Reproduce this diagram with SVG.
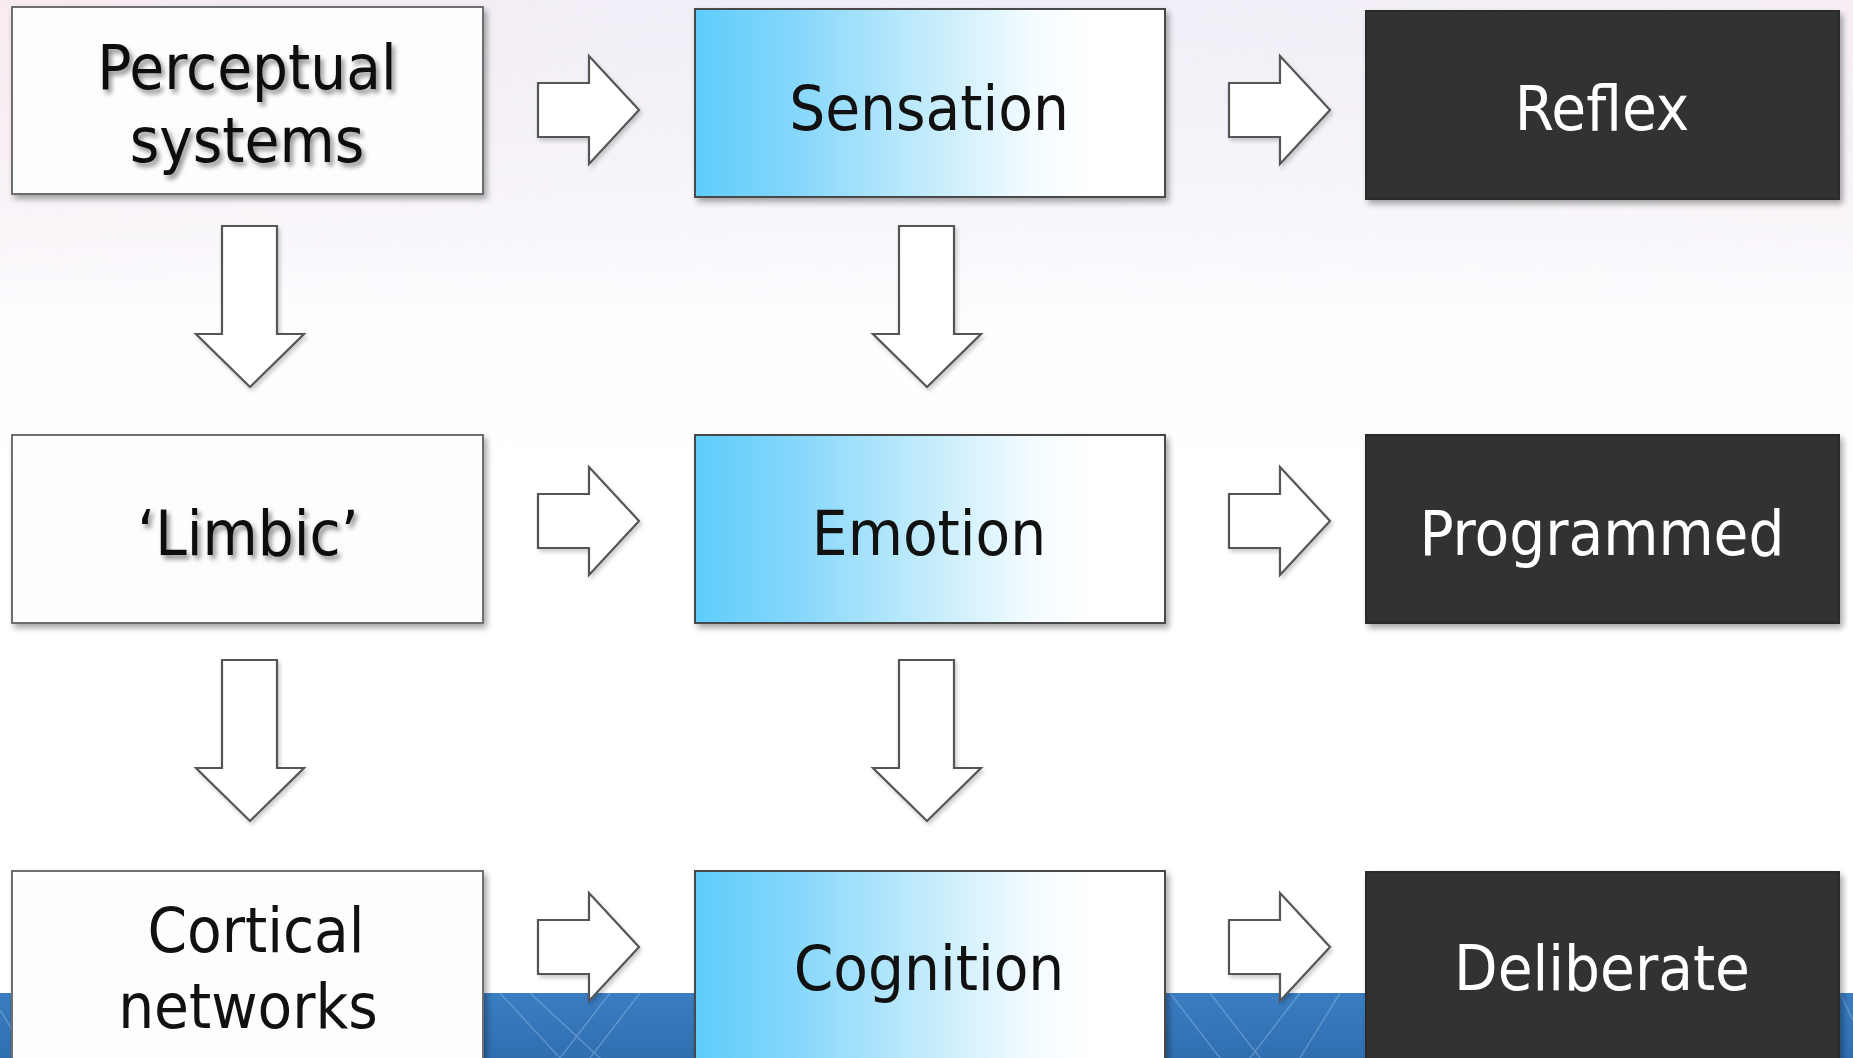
<svg xmlns="http://www.w3.org/2000/svg" width="1853" height="1058" viewBox="0 0 1853 1058">
<style>
.box{stroke:#4a4a4a;stroke-width:2;filter:url(#sh)}
.c1{fill:#fefdfd;stroke:#6e6e6e}
.c2{fill:url(#blue)}
.c3{fill:#333333;stroke:#2a2a2a}
.t{font-family:"DejaVu Sans Condensed","DejaVu Sans",sans-serif;font-size:63px;text-anchor:middle}
.dk{fill:#111111}
.lt{fill:#ffffff}
.ts{filter:url(#tsh)}
.arr{fill:#ffffff;stroke:#555555;stroke-width:2.2;stroke-linejoin:miter;filter:url(#ash)}
</style>
<defs>
<linearGradient id="bg" x1="0" y1="0" x2="0" y2="1">
<stop offset="0" stop-color="#f1eef6"/>
<stop offset="0.15" stop-color="#f7f5fa"/>
<stop offset="0.3" stop-color="#fdfcfe"/>
<stop offset="0.45" stop-color="#ffffff"/>
</linearGradient>
<linearGradient id="bg2" x1="0" y1="0" x2="1" y2="0">
<stop offset="0" stop-color="#fbe9ee" stop-opacity="0.7"/>
<stop offset="0.5" stop-color="#eef0fb" stop-opacity="0.3"/>
<stop offset="1" stop-color="#fbeef3" stop-opacity="0.6"/>
</linearGradient>
<linearGradient id="fade" x1="0" y1="0" x2="0" y2="1">
<stop offset="0" stop-color="#fff"/>
<stop offset="1" stop-color="#000"/>
</linearGradient>
<mask id="m"><rect x="0" y="0" width="1853" height="300" fill="url(#fade)"/></mask>
<linearGradient id="blue" x1="0" y1="0" x2="1" y2="0">
<stop offset="0" stop-color="#5ecdfb"/>
<stop offset="0.2" stop-color="#82d6fb"/>
<stop offset="0.5" stop-color="#c4ecfb"/>
<stop offset="0.72" stop-color="#f4fcff"/>
<stop offset="0.85" stop-color="#ffffff"/>
</linearGradient>
<linearGradient id="band" x1="0" y1="0" x2="0" y2="1">
<stop offset="0" stop-color="#3a7dc2"/>
<stop offset="1" stop-color="#2f6fb0"/>
</linearGradient>
<filter id="sh" x="-5%" y="-5%" width="115%" height="120%">
<feGaussianBlur in="SourceAlpha" stdDeviation="3"/>
<feOffset dx="3" dy="4" result="b"/>
<feComponentTransfer><feFuncA type="linear" slope="0.35"/></feComponentTransfer>
<feMerge><feMergeNode/><feMergeNode in="SourceGraphic"/></feMerge>
</filter>
<filter id="ash" x="-10%" y="-10%" width="130%" height="130%">
<feGaussianBlur in="SourceAlpha" stdDeviation="2"/>
<feOffset dx="2" dy="3"/>
<feComponentTransfer><feFuncA type="linear" slope="0.2"/></feComponentTransfer>
<feMerge><feMergeNode/><feMergeNode in="SourceGraphic"/></feMerge>
</filter>
<filter id="tsh" x="-10%" y="-20%" width="130%" height="150%">
<feGaussianBlur in="SourceAlpha" stdDeviation="2.5"/>
<feOffset dx="3" dy="4"/>
<feComponentTransfer><feFuncA type="linear" slope="0.45"/></feComponentTransfer>
<feMerge><feMergeNode/><feMergeNode in="SourceGraphic"/></feMerge>
</filter>
<path id="ar" d="M0,-27 H51 V-54 L101,0 L51,54 V27 H0 Z"/>
<path id="ad" d="M-28,0 H27 V108 H54 L0,161 L-54,108 H-28 Z"/>
</defs>

<rect x="0" y="0" width="1853" height="1058" fill="url(#bg)"/>
<rect x="0" y="0" width="1853" height="300" fill="url(#bg2)" mask="url(#m)"/>
<rect x="0" y="993" width="1853" height="65" fill="url(#band)"/>
<g stroke="#8fb8e0" stroke-width="1.5" fill="none" opacity="0.45">
<path d="M500,993 L560,1058 M530,993 L600,1058 M610,993 L560,1058 M640,993 L590,1058"/>
<path d="M1170,993 L1220,1058 M1210,993 L1260,1058 M1300,993 L1250,1058 M1340,993 L1300,1058"/>
<path d="M0,1010 L30,1058 M1840,993 L1853,1020"/>
</g>

<g id="connectors">
<use href="#ar" class="arr" x="538" y="110"/>
<use href="#ar" class="arr" x="538" y="521"/>
<use href="#ar" class="arr" x="538" y="947"/>
<use href="#ar" class="arr" x="1229" y="110"/>
<use href="#ar" class="arr" x="1229" y="521"/>
<use href="#ar" class="arr" x="1229" y="947"/>
<use href="#ad" class="arr" x="250" y="226"/>
<use href="#ad" class="arr" x="250" y="660"/>
<use href="#ad" class="arr" x="927" y="226"/>
<use href="#ad" class="arr" x="927" y="660"/>
</g>

<g id="perceptual">
<rect class="box c1" x="12" y="7" width="471" height="187"/>
<text class="t dk ts" x="247" y="89">Perceptual</text>
<text class="t dk ts" x="247" y="162">systems</text>
</g>
<g id="sensation">
<rect class="box c2" x="695" y="9" width="470" height="188"/>
<text class="t dk" x="929" y="130">Sensation</text>
</g>
<g id="reflex">
<rect class="box c3" x="1366" y="11" width="473" height="188"/>
<text class="t lt" x="1602" y="130">Reflex</text>
</g>

<g id="limbic">
<rect class="box c1" x="12" y="435" width="471" height="188"/>
<text class="t dk ts" x="248" y="555">‘Limbic’</text>
</g>
<g id="emotion">
<rect class="box c2" x="695" y="435" width="470" height="188"/>
<text class="t dk" x="929" y="555">Emotion</text>
</g>
<g id="programmed">
<rect class="box c3" x="1366" y="435" width="473" height="188"/>
<text class="t lt" x="1602" y="555">Programmed</text>
</g>

<g id="cortical">
<rect class="box c1" x="12" y="871" width="471" height="200"/>
<text class="t dk" x="256" y="952">Cortical</text>
<text class="t dk" x="248" y="1028">networks</text>
</g>
<g id="cognition">
<rect class="box c2" x="695" y="871" width="470" height="200"/>
<text class="t dk" x="929" y="990">Cognition</text>
</g>
<g id="deliberate">
<rect class="box c3" x="1366" y="872" width="473" height="200"/>
<text class="t lt" x="1602" y="990">Deliberate</text>
</g>
</svg>
